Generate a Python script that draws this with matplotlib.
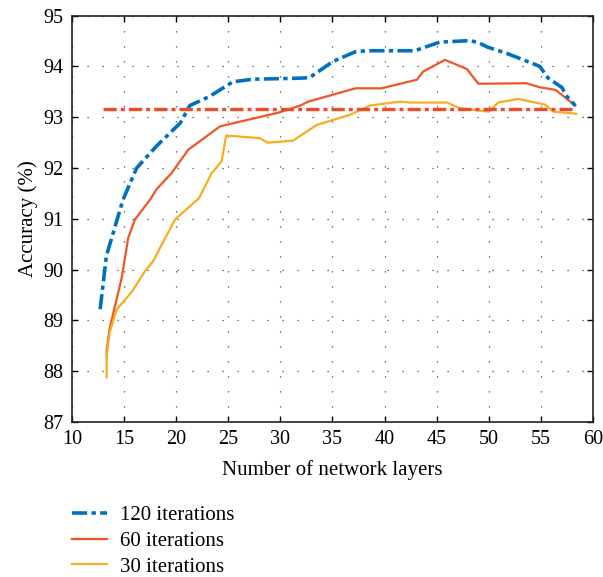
import matplotlib
matplotlib.use("Agg")
import matplotlib.pyplot as plt

# ---- data ----
x120 = [12.7, 13.3, 14.9, 16.2, 18.1, 20.4, 21.3, 23.2, 25.45, 27.4, 31.9, 32.8, 35.05, 37.2, 38.3, 42.9, 45.3, 48.2, 49.0, 49.9, 51.7, 54.2, 54.9, 55.7, 57.0, 57.5, 58.3]
y120 = [89.22, 90.27, 91.38, 92.0, 92.43, 92.89, 93.23, 93.41, 93.70, 93.75, 93.77, 93.78, 94.10, 94.29, 94.31, 94.31, 94.48, 94.51, 94.47, 94.38, 94.26, 94.06, 94.0, 93.77, 93.59, 93.41, 93.23]

x60 = [13.33, 13.33, 13.6, 14.77, 15.4, 16.05, 17.5, 18.1, 19.55, 21.15, 24.2, 25.2, 29.8, 31.9, 32.7, 37.2, 39.7, 43.1, 43.7, 45.8, 47.9, 49.0, 53.6, 54.9, 56.4, 58.3]
y60 = [88.3, 88.42, 88.83, 89.84, 90.63, 90.99, 91.38, 91.58, 91.9, 92.36, 92.82, 92.87, 93.09, 93.23, 93.31, 93.57, 93.57, 93.74, 93.9, 94.13, 93.95, 93.66, 93.67, 93.59, 93.54, 93.23]

x30 = [13.33, 13.33, 13.6, 14.3, 15.8, 17.0, 17.8, 18.45, 19.9, 22.2, 23.4, 24.35, 24.8, 28.0, 28.8, 31.2, 33.5, 36.7, 38.6, 41.5, 42.4, 46.0, 47.2, 50.0, 50.9, 52.8, 55.4, 56.2, 58.4]
y30 = [87.88, 88.3, 88.76, 89.22, 89.58, 89.97, 90.17, 90.43, 90.99, 91.41, 91.9, 92.13, 92.64, 92.59, 92.5, 92.54, 92.85, 93.05, 93.23, 93.31, 93.29, 93.29, 93.18, 93.11, 93.29, 93.36, 93.25, 93.11, 93.07]

baseline_x = [13.0, 58.0]
baseline_y = [93.17, 93.17]

labels = ["120 iterations", "60 iterations", "30 iterations"]
xticks = [10, 15, 20, 25, 30, 35, 40, 45, 50, 55, 60]
yticks = [87, 88, 89, 90, 91, 92, 93, 94, 95]

plt.rcParams['font.family'] = ['Liberation Serif', 'DejaVu Serif']

fig = plt.figure(figsize=(6.03, 5.77), dpi=100)
ax = fig.add_axes([0.1194, 0.2686, 0.864, 0.7042])

blue = "#0072BD"
red = "#EE5624"
orange = "#F9AC20"
hred = "#EF4A2A"

l1, = ax.plot(x120, y120, color=blue, lw=2.6, linestyle=(0, (4.2, 1.2, 1.2, 1.2)), zorder=4, label=labels[0])
l2, = ax.plot(x60, y60, color=red, lw=1.6, zorder=3, label=labels[1])
l3, = ax.plot(x30, y30, color=orange, lw=1.6, zorder=3, label=labels[2])
ax.plot(baseline_x, baseline_y, color=hred, lw=2.4, linestyle=(0, (4.0, 1.2, 1.2, 1.2)), zorder=5)

ax.set_xlim(10, 60)
ax.set_ylim(87, 95)
ax.set_xticks(xticks)
ax.set_yticks(yticks)
ax.tick_params(direction="in", top=True, right=True, labelsize=14.5, length=4, width=1, pad=6)
ax.grid(True, color="#444444", linestyle=(0, (1, 11)), lw=0.9)
for s in ax.spines.values():
    s.set_linewidth(1.2)
    s.set_color("#222222")

ax.set_xlabel("Number of network layers", fontsize=15, labelpad=8)
ax.set_ylabel("Accuracy (%)", fontsize=15, labelpad=4)

fig.legend(handles=[l1, l2, l3], labels=labels, loc="upper left",
           bbox_to_anchor=(0.119, 0.124), frameon=False, fontsize=15,
           handlelength=1.7, handletextpad=0.6, labelspacing=0.3,
           borderpad=0, borderaxespad=0)

fig.savefig("out.png", dpi=100)
